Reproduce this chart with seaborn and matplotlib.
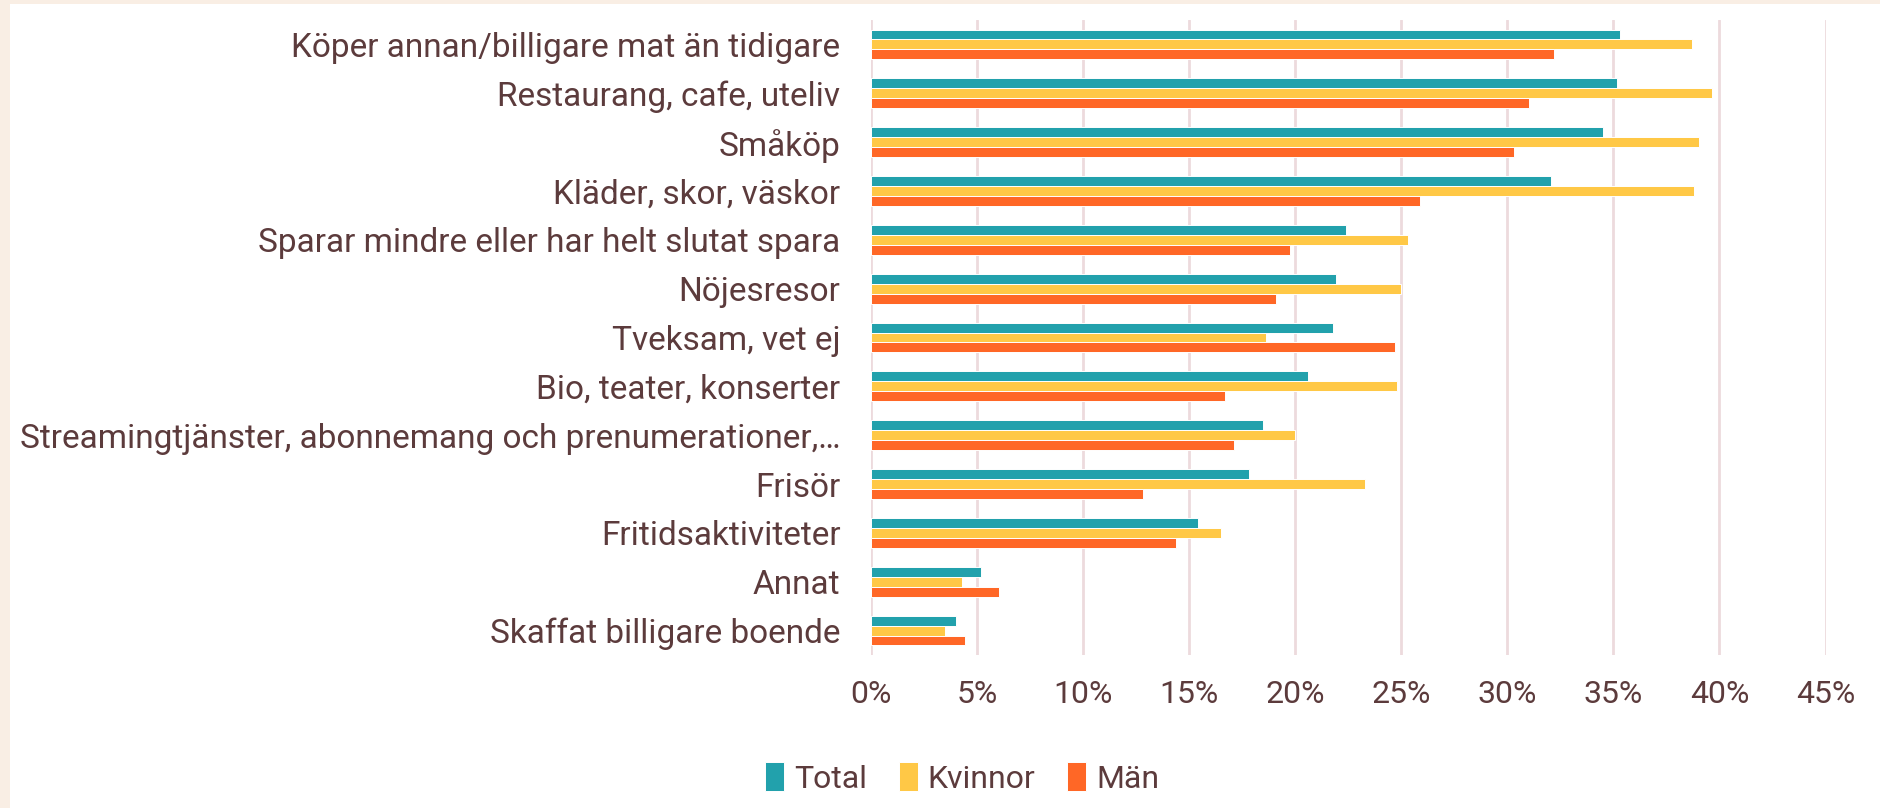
import matplotlib
matplotlib.use("Agg")
import matplotlib.pyplot as plt
import numpy as np
import pandas as pd
import seaborn as sns
from matplotlib.patches import Rectangle

categories = [
    "Köper annan/billigare mat än tidigare",
    "Restaurang, cafe, uteliv",
    "Småköp",
    "Kläder, skor, väskor",
    "Sparar mindre eller har helt slutat spara",
    "Nöjesresor",
    "Tveksam, vet ej",
    "Bio, teater, konserter",
    "Streamingtjänster, abonnemang och prenumerationer,…",
    "Frisör",
    "Fritidsaktiviteter",
    "Annat",
    "Skaffat billigare boende",
]
total = [35.3, 35.15, 34.5, 32.05, 22.4, 21.9, 21.8, 20.6, 18.5, 17.8, 15.4, 5.2, 4.0]
kvinnor = [38.7, 39.66, 39.05, 38.8, 25.3, 25.0, 18.6, 24.8, 20.0, 23.3, 16.5, 4.3, 3.5]
man = [32.2, 31.0, 30.3, 25.86, 19.75, 19.1, 24.7, 16.7, 17.1, 12.8, 14.36, 6.04, 4.45]
series_names = ["Total", "Kvinnor", "Män"]
tick_values = [0, 5, 10, 15, 20, 25, 30, 35, 40, 45]
tick_labels = ["0%", "5%", "10%", "15%", "20%", "25%", "30%", "35%", "40%", "45%"]

colors = ["#22A1AC", "#FFC846", "#FF6726"]
text_color = "#5C3B3C"
grid_color = "#EDDADD"

df = pd.DataFrame({"Kategori": categories, "Total": total, "Kvinnor": kvinnor, "Män": man})
long = df.melt(id_vars="Kategori", var_name="Grupp", value_name="Andel")

sns.set_theme(style="white")
plt.rcParams["font.family"] = ["Roboto", "DejaVu Sans"]

W, H = 1880, 808
fig = plt.figure(figsize=(W / 100, H / 100), dpi=100, facecolor="#F9EEE4")
fig.patches.append(Rectangle((10 / W, 0), 1, 1 - 4 / H, transform=fig.transFigure,
                             facecolor="white", edgecolor="none", zorder=-1))

left, right = 871 / W, 1825.5 / W
bottom, top = 1 - 655 / H, 1 - 20 / H
ax = fig.add_axes([left, bottom, right - left, top - bottom])
ax.set_facecolor("none")

sns.barplot(data=long, y="Kategori", x="Andel", hue="Grupp", order=categories,
            hue_order=series_names, palette=colors, saturation=1, width=0.61, gap=0,
            orient="h", ax=ax, edgecolor="white", linewidth=0.7, legend=True)

ax.set_xlim(0, 45)
ax.set_xticks(tick_values)
ax.set_xticklabels(tick_labels)
ax.grid(axis="x", color=grid_color, linewidth=2)
ax.grid(axis="y", visible=False)
ax.set_axisbelow(True)
for s in ax.spines.values():
    s.set_visible(False)
ax.tick_params(axis="both", length=0, labelcolor=text_color)
ax.tick_params(axis="x", pad=18, labelsize=23)
ax.tick_params(axis="y", pad=22, labelsize=24)
ax.set_xlabel("")
ax.set_ylabel("")

handles, labels = ax.get_legend_handles_labels()
ax.get_legend().remove()
fig.legend(handles, labels, loc="center", bbox_to_anchor=(962 / W, 1 - 778 / H), ncol=3,
           frameon=False, fontsize=23, handlelength=0.6, handleheight=1.0,
           handletextpad=0.3, columnspacing=1.0, labelcolor=text_color)

fig.savefig("out.png", dpi=100, facecolor=fig.get_facecolor())
